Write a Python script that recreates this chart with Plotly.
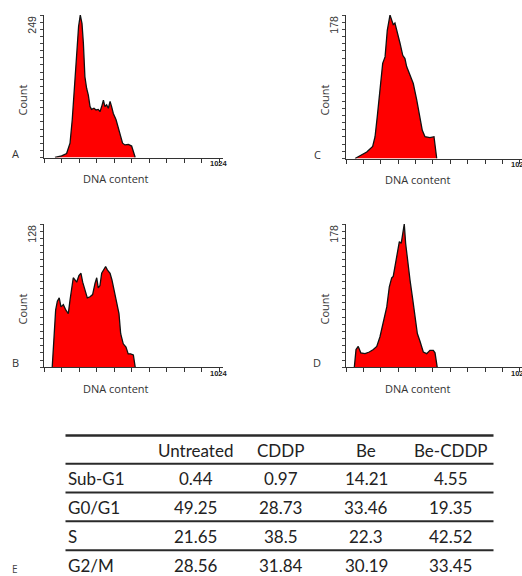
import plotly.graph_objects as go

# ---------------- data ----------------
a_channel = [64, 103, 132, 152, 165, 177, 191, 202, 212, 222, 230, 239, 249, 259, 269, 278, 292, 304, 317, 327, 337, 347, 356, 366, 376, 386, 395, 405, 421, 434, 448, 459, 473, 493, 512, 522, 533]
a_count = [0, 3, 7, 25, 66, 124, 182, 229, 249, 234, 200, 141, 121, 109, 89, 84, 86, 83, 84, 80, 89, 100, 89, 92, 86, 98, 89, 77, 66, 51, 36, 25, 22, 23, 20, 10, 0]

b_channel = [48, 58, 68, 78, 89, 99, 113, 128, 142, 152, 162, 171, 181, 191, 204, 216, 226, 240, 253, 269, 284, 298, 308, 317, 327, 337, 350, 360, 370, 386, 397, 409, 425, 438, 448, 463, 479, 492, 506, 522, 533]
b_count = [0, 24, 51, 59, 62, 54, 56, 51, 48, 60, 69, 80, 78, 76, 82, 84, 76, 69, 62, 63, 65, 75, 80, 71, 73, 84, 88, 90, 87, 84, 78, 69, 57, 48, 30, 21, 18, 12, 12, 11, 0]

c_channel = [53, 82, 122, 157, 171, 184, 200, 216, 230, 243, 259, 269, 278, 288, 302, 318, 334, 347, 357, 377, 396, 416, 436, 449, 465, 494, 518, 534]
c_count = [0, 3, 8, 15, 27, 52, 85, 118, 126, 159, 178, 172, 166, 168, 157, 143, 128, 124, 114, 104, 93, 73, 52, 35, 27, 26, 27, 0]

d_channel = [49, 59, 72, 87, 112, 137, 161, 181, 200, 220, 240, 255, 269, 278, 288, 302, 314, 325, 337, 343, 351, 361, 377, 393, 406, 420, 436, 455, 475, 494, 514, 524, 537]
d_count = [0, 22, 26, 18, 17, 19, 22, 26, 38, 55, 75, 100, 111, 113, 125, 146, 156, 154, 167, 178, 154, 133, 108, 84, 63, 42, 32, 19, 17, 21, 21, 18, 0]

panel_letters = ["A", "B", "C", "D"]
y_max_labels = [249, 128, 178, 178]
x_max_label = 1024
x_axis_title = "DNA content"
y_axis_title = "Count"

table_columns = ["Untreated", "CDDP", "Be", "Be-CDDP"]
table_rows = ["Sub-G1", "G0/G1", "S", "G2/M"]
untreated_vals = [0.44, 49.25, 21.65, 28.56]
cddp_vals = [0.97, 28.73, 38.5, 31.84]
be_vals = [14.21, 33.46, 22.3, 30.19]
be_cddp_vals = [4.55, 19.35, 42.52, 33.45]
table_letter = "E"

# ---------------- layout helpers ----------------
W, H = 522, 576


def px(x):
    return x / W


def py(y):
    return 1 - y / H


panels = [
    dict(ch=a_channel, ct=a_count, ymax=y_max_labels[0], x0=44, x1=222.7, xr=1044, yt=15, yb=157.5, letter=panel_letters[0]),
    dict(ch=b_channel, ct=b_count, ymax=y_max_labels[1], x0=44, x1=222.7, xr=1044, yt=224, yb=367.3, letter=panel_letters[1]),
    dict(ch=c_channel, ct=c_count, ymax=y_max_labels[2], x0=346, x1=522, xr=1036, yt=15, yb=158.5, letter=panel_letters[2]),
    dict(ch=d_channel, ct=d_count, ymax=y_max_labels[3], x0=346, x1=522, xr=1036, yt=224, yb=367.3, letter=panel_letters[3]),
]

fig = go.Figure()
layout = dict(
    width=W, height=H,
    margin=dict(l=0, r=0, t=0, b=0),
    paper_bgcolor="white", plot_bgcolor="white",
    showlegend=False,
)
annotations = []
shapes = []

label_font = dict(family="Open Sans", size=11, color="#333333")

for i, p in enumerate(panels):
    n = "" if i == 0 else str(i + 1)
    xa = "x" + n
    ya = "y" + n
    fig.add_trace(go.Scatter(
        x=p["ch"], y=p["ct"], xaxis=xa, yaxis=ya,
        mode="lines", fill="tozeroy", fillcolor="#ff0000",
        line=dict(color="#111111", width=1.3), hoverinfo="skip",
    ))
    layout["xaxis" + n] = dict(
        domain=[px(p["x0"]), px(p["x1"])], anchor=ya,
        range=[0, p["xr"]], showgrid=False, zeroline=False,
        showline=True, linecolor="#333333", linewidth=1.3,
        ticks="outside", ticklen=4, tickcolor="#333333", tickwidth=1,
        tick0=0, dtick=x_max_label / 10, showticklabels=False, fixedrange=True,
    )
    layout["yaxis" + n] = dict(
        domain=[py(p["yb"]), py(p["yt"])], anchor=xa,
        range=[0, p["ymax"]], showgrid=False, zeroline=False,
        showline=True, linecolor="#333333", linewidth=1.3,
        ticks="outside", ticklen=3, tickcolor="#444444", tickwidth=1,
        tick0=0, dtick=p["ymax"] / 20, showticklabels=False, fixedrange=True,
    )
    x0, yt, yb = p["x0"], p["yt"], p["yb"]
    annotations.append(dict(
        x=px(x0 - 12.3), y=py(yt + 10), xref="paper", yref="paper",
        text=str(p["ymax"]), textangle=-90, showarrow=False,
        xanchor="center", yanchor="middle",
        font=dict(family="Liberation Sans", size=10.5, color="#333333"),
    ))
    annotations.append(dict(
        x=px(x0 - 22.5), y=py(yt + 85), xref="paper", yref="paper",
        text=y_axis_title, textangle=-90, showarrow=False,
        xanchor="center", yanchor="middle", font=label_font,
    ))
    annotations.append(dict(
        x=px(x0 - 29), y=py(yb - 4.5), xref="paper", yref="paper",
        text=p["letter"], showarrow=False,
        xanchor="center", yanchor="middle", font=label_font,
    ))
    annotations.append(dict(
        x=px(x0 + 71.5), y=py(yb + 21), xref="paper", yref="paper",
        text=x_axis_title, showarrow=False,
        xanchor="center", yanchor="middle", font=label_font,
    ))
    annotations.append(dict(
        x=x_max_label, y=py(yb + 6), xref=xa, yref="paper",
        showarrow=False,
        text="<b>" + str(x_max_label) + "</b>",
        xanchor="center", yanchor="middle",
        font=dict(family="Liberation Sans", size=7.5, color="#222222"),
    ))

# ---------------- table ----------------
tbl_font = dict(family="Lato", size=17, color="#222222")
col_centers = [195.5, 280.5, 366, 450.5]
row_centers = [478.5, 507.5, 536.5, 565]
header_y = 450
line_ys = [435.5, 463.8, 492.5, 521.3, 550.3]
for k, yl in enumerate(line_ys):
    shapes.append(dict(
        type="line", xref="paper", yref="paper",
        x0=px(65.5), x1=px(493.5), y0=py(yl), y1=py(yl),
        line=dict(color="#2a2a2a", width=2.5 if k == 0 else 2),
    ))
for c, name in enumerate(table_columns):
    annotations.append(dict(
        x=px(col_centers[c]), y=py(header_y), xref="paper", yref="paper",
        text=name, showarrow=False, xanchor="center", yanchor="middle", font=tbl_font,
    ))
value_cols = [untreated_vals, cddp_vals, be_vals, be_cddp_vals]
for r, rname in enumerate(table_rows):
    annotations.append(dict(
        x=px(66), y=py(row_centers[r]), xref="paper", yref="paper",
        text=rname, showarrow=False, xanchor="left", yanchor="middle", font=tbl_font,
    ))
    for c, vals in enumerate(value_cols):
        annotations.append(dict(
            x=px(col_centers[c]), y=py(row_centers[r]), xref="paper", yref="paper",
            text=str(vals[r]), showarrow=False, xanchor="center", yanchor="middle", font=tbl_font,
        ))
annotations.append(dict(
    x=px(15), y=py(568.5), xref="paper", yref="paper",
    text=table_letter, showarrow=False, xanchor="center", yanchor="middle",
    font=dict(family="Open Sans", size=10, color="#444444"),
))

layout["annotations"] = annotations
layout["shapes"] = shapes
fig.update_layout(**layout)
fig.write_html("out.html")
